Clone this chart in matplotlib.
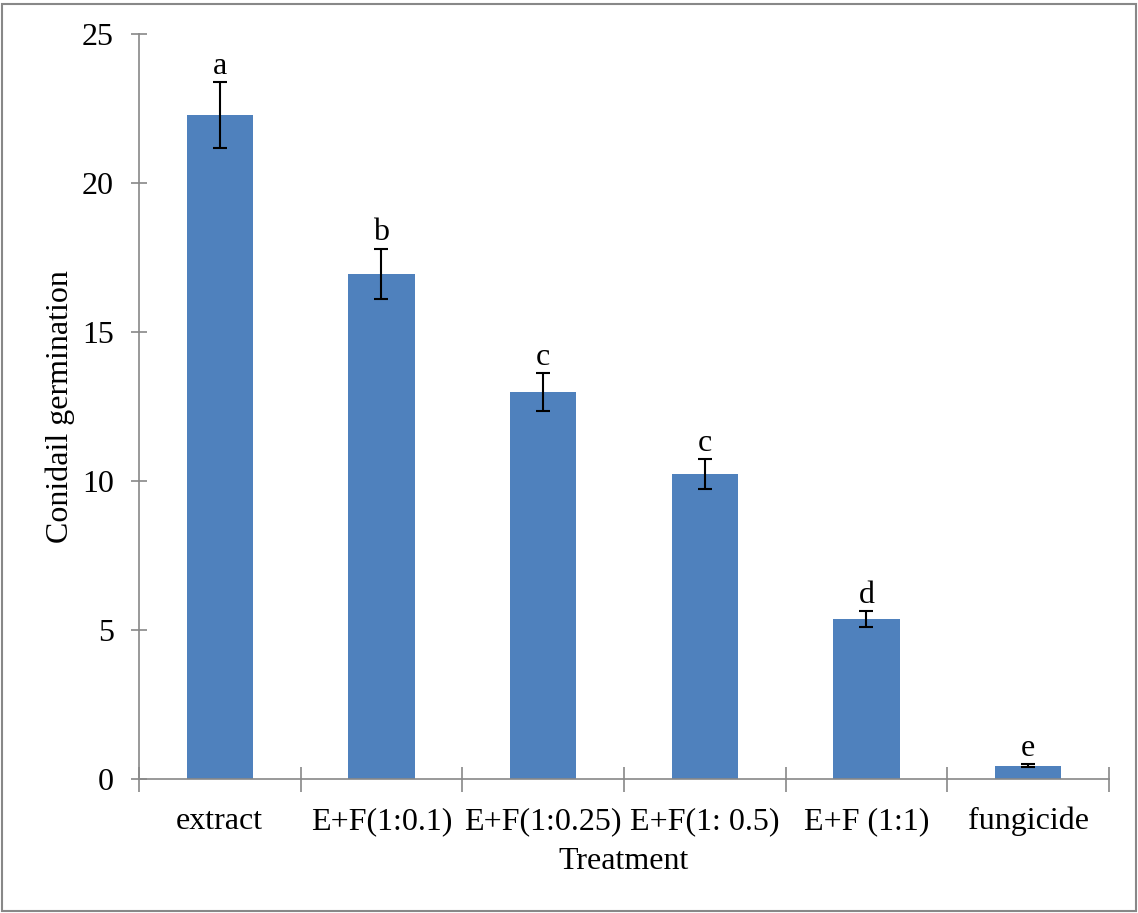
import matplotlib
matplotlib.use("Agg")
import matplotlib.pyplot as plt
from matplotlib.patches import Rectangle

treatments = ["extract", "E+F(1:0.1)", "E+F(1:0.25)", "E+F(1: 0.5)", "E+F (1:1)", "fungicide"]
germination = [22.3, 16.95, 12.99, 10.23, 5.36, 0.45]
errors = [1.1, 0.85, 0.64, 0.5, 0.27, 0.04]
letters = ["a", "b", "c", "c", "d", "e"]

plt.rcParams["font.family"] = ["Liberation Serif", "DejaVu Serif"]
FS = 23

fig = plt.figure(figsize=(11.38, 9.13), dpi=100)
ax = fig.add_axes([0.1221, 0.1468, 0.8524, 0.8156])

x = list(range(len(treatments)))
ax.bar(x, germination, width=0.41, color="#4F81BD", zorder=2)
ax.errorbar(x, germination, yerr=errors, fmt="none", ecolor="black",
            elinewidth=1.5, capsize=5, capthick=1.5, zorder=3)

for xi, v, e, lab in zip(x, germination, errors, letters):
    ax.annotate(lab, (xi, v + e), xytext=(0, 1), textcoords="offset points",
                ha="center", va="bottom", fontsize=FS)

ax.set_xlim(-0.5, len(treatments) - 0.5)
ax.set_ylim(0, 25)
ax.set_yticks([0, 5, 10, 15, 20, 25])
ax.set_xticks(x)
ax.set_xticklabels(treatments, fontsize=FS)
ax.tick_params(axis="y", labelsize=FS, direction="inout", length=12, width=1.2, color="#888888", pad=12)
# category separators as minor ticks on x axis
ax.set_xticks([i - 0.5 for i in range(len(treatments) + 1)], minor=True)
ax.tick_params(axis="x", which="major", length=0, pad=20)
ax.tick_params(axis="x", which="minor", direction="inout", length=18, width=1.2, color="#888888")

for s in ["top", "right"]:
    ax.spines[s].set_visible(False)
for s in ["left", "bottom"]:
    ax.spines[s].set_color("#888888")
    ax.spines[s].set_linewidth(1.2)

ax.set_xlabel("Treatment", fontsize=FS, labelpad=8)
ax.set_ylabel("Conidail germination", fontsize=FS, labelpad=5)

# outer border of the chart area
fig.patches.append(Rectangle((0.002, 0.002), 0.996, 0.994, transform=fig.transFigure,
                             fill=False, edgecolor="#888888", linewidth=1.5))

fig.savefig("out.png", dpi=100)
